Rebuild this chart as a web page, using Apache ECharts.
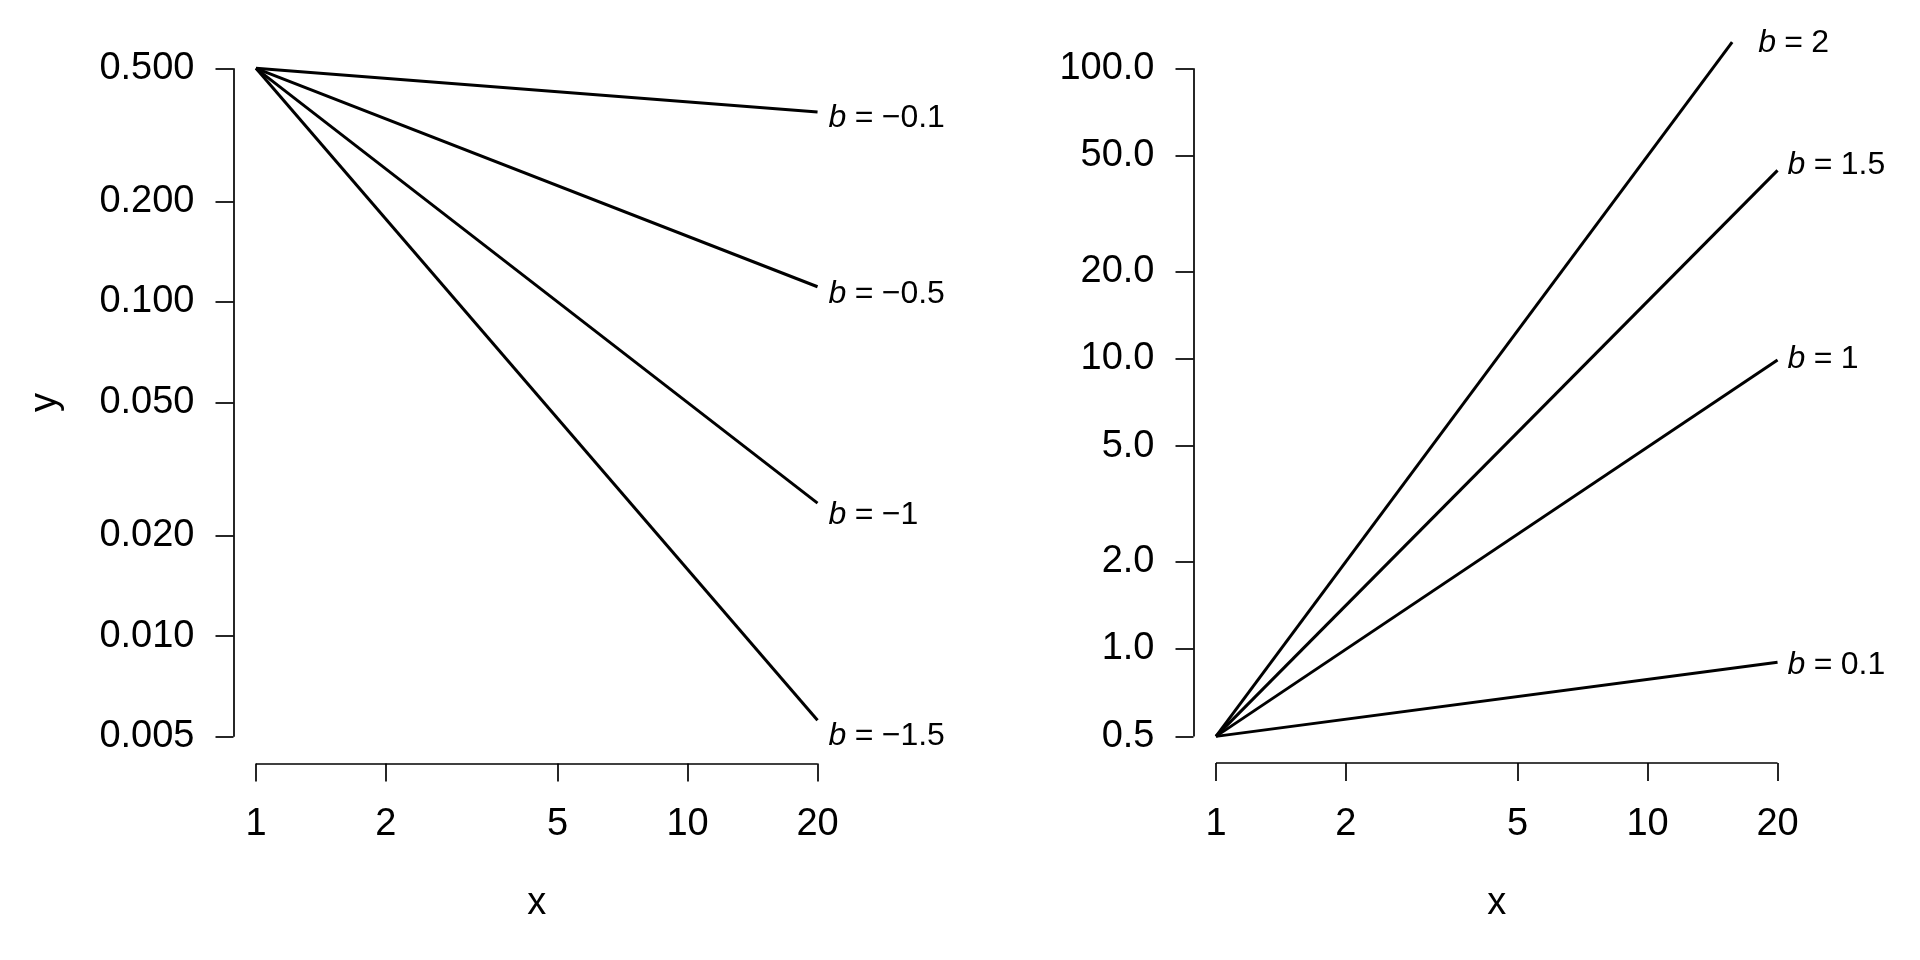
<!DOCTYPE html>
<html><head><meta charset="utf-8">
<script src="https://cdn.jsdelivr.net/npm/echarts@6/dist/echarts.min.js"></script>
<style>html,body{margin:0;padding:0;background:#fff}#c{width:1920px;height:960px}</style>
</head><body><div id="c"></div>
<script>
// ---- data ----
const xTicks = [1, 2, 5, 10, 20];
const xTickLabels = ['1', '2', '5', '10', '20'];
const leftYTicks = [0.005, 0.01, 0.02, 0.05, 0.1, 0.2, 0.5];
const leftYTickLabels = ['0.005', '0.010', '0.020', '0.050', '0.100', '0.200', '0.500'];
const rightYTicks = [0.5, 1, 2, 5, 10, 20, 50, 100];
const rightYTickLabels = ['0.5', '1.0', '2.0', '5.0', '10.0', '20.0', '50.0', '100.0'];

const leftB = ['-0.1', '-0.5', '-1', '-1.5'];
const leftX = [[1, 20], [1, 20], [1, 20], [1, 20]];
const leftY = [[0.5, 0.37], [0.5, 0.111], [0.5, 0.025], [0.5, 0.0056]];

const rightB = ['2', '1.5', '1', '0.1'];
const rightX = [[1, 15.7], [1, 20], [1, 20], [1, 20]];
const rightY = [[0.5, 123], [0.5, 44.5], [0.5, 9.9], [0.5, 0.9]];

// ---- helpers ----
function padLog(lo, hi) {
  const r = Math.log10(hi) - Math.log10(lo);
  return [lo / Math.pow(10, 0.04 * r), hi * Math.pow(10, 0.04 * r)];
}
function fmt(ticks, labels) {
  return function (v) {
    for (let i = 0; i < ticks.length; i++) {
      if (Math.abs(Math.log10(v) - Math.log10(ticks[i])) < 1e-6) return labels[i];
    }
    return '';
  };
}
function labelText(b) {
  const neg = b.charAt(0) === '-';
  return '{i|b}{s| }{o|=}{s| }' + (neg ? '{o|\u2212}' : '') + '{n|' + (neg ? b.slice(1) : b) + '}';
}
const FONT = 'Liberation Sans, Arial, sans-serif';
const labelRich = {
  i: { fontFamily: FONT, fontStyle: 'italic', fontSize: 32, color: '#000' },
  s: { fontFamily: FONT, fontSize: 30, color: '#000' },
  o: { fontFamily: FONT, fontSize: 32, color: '#000' },
  n: { fontFamily: FONT, fontSize: 32, color: '#000' }
};

const xExt = padLog(xTicks[0], xTicks[xTicks.length - 1]);
const lyExt = padLog(leftYTicks[0], leftYTicks[leftYTicks.length - 1]);
const ryExt = padLog(rightYTicks[0], rightYTicks[rightYTicks.length - 1]);

function xAxisOpt(gi) {
  return {
    type: 'log', gridIndex: gi, min: xExt[0], max: xExt[1], logBase: 10,
    axisLine: { show: false }, splitLine: { show: false }, minorTick: { show: false },
    axisTick: { show: true, inside: false, length: 18, customValues: xTicks, lineStyle: { color: '#000', width: 1.7 } },
    axisLabel: { show: true, customValues: xTicks, margin: 42, formatter: fmt(xTicks, xTickLabels),
      fontFamily: FONT, fontSize: 38, color: '#000' },
    name: 'x', nameLocation: 'middle', nameGap: 121,
    nameTextStyle: { fontFamily: FONT, fontSize: 38, color: '#000' }
  };
}
function yAxisOpt(gi, ticks, labels, ext, name) {
  return {
    type: 'log', gridIndex: gi, min: ext[0], max: ext[1], logBase: 10,
    axisLine: { show: false }, splitLine: { show: false }, minorTick: { show: false },
    axisTick: { show: true, inside: false, length: 18, customValues: ticks, lineStyle: { color: '#000', width: 1.7 } },
    axisLabel: { show: true, customValues: ticks, margin: 39, formatter: fmt(ticks, labels),
      fontFamily: FONT, fontSize: 38, color: '#000' },
    name: name, nameLocation: 'middle', nameGap: 169, nameRotate: 90,
    nameTextStyle: { fontFamily: FONT, fontSize: 38, color: '#000' }
  };
}

function axisFrame(gi, ticks, yExt) {
  return {
    type: 'line', xAxisIndex: gi, yAxisIndex: gi, data: [], clip: false, silent: true,
    markLine: {
      silent: true, symbol: 'none', animation: false, label: { show: false },
      lineStyle: { color: '#000', width: 1.7, type: 'solid' },
      emphasis: { disabled: true },
      data: [
        [{ coord: [xExt[0], ticks[0]] }, { coord: [xExt[0], ticks[ticks.length - 1]] }],
        [{ coord: [xTicks[0], yExt[0]] }, { coord: [xTicks[xTicks.length - 1], yExt[0]] }]
      ]
    }
  };
}

const leftOffsets = [[11, 6], [11, 7], [11, 12], [11, 16]];
const rightOffsets = [[26, 1], [10, -5], [10, -1], [10, 3]];

function curves(gi, bs, xs, ys, offs) {
  return bs.map(function (b, k) {
    const pts = xs[k].map(function (x, j) { return [x, ys[k][j]]; });
    const last = pts[pts.length - 1];
    return {
      type: 'line', xAxisIndex: gi, yAxisIndex: gi, data: pts, showSymbol: false, symbol: 'none',
      clip: true, silent: true,
      lineStyle: { color: '#000', width: 3 },
      markPoint: {
        silent: true, symbol: 'circle', symbolSize: 0, animation: false,
        itemStyle: { color: 'rgba(0,0,0,0)' },
        label: { show: true, position: 'right', distance: 0, offset: offs[k],
          formatter: labelText(b), rich: labelRich },
        data: [{ coord: last }]
      }
    };
  });
}

const chart = echarts.init(document.getElementById('c'), null, { renderer: 'canvas' });
chart.setOption({
  animation: false,
  backgroundColor: '#fff',
  grid: [
    { left: 233.5, top: 41.6, width: 606.5, height: 721.8, outerBoundsMode: 'none', containLabel: false },
    { left: 1193.5, top: 41.6, width: 606.5, height: 721.5, outerBoundsMode: 'none', containLabel: false }
  ],
  xAxis: [xAxisOpt(0), xAxisOpt(1)],
  yAxis: [
    yAxisOpt(0, leftYTicks, leftYTickLabels, lyExt, 'y'),
    yAxisOpt(1, rightYTicks, rightYTickLabels, ryExt, '')
  ],
  series: [].concat(
    [axisFrame(0, leftYTicks, lyExt), axisFrame(1, rightYTicks, ryExt)],
    curves(0, leftB, leftX, leftY, leftOffsets),
    curves(1, rightB, rightX, rightY, rightOffsets)
  )
});
</script></body></html>
